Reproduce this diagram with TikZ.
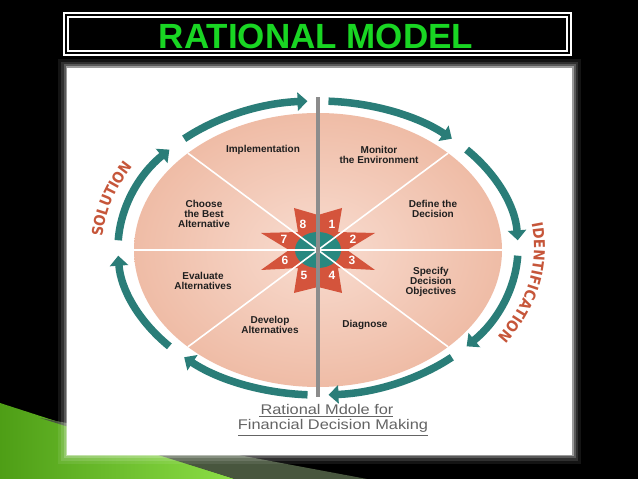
\documentclass[tikz,border=0pt]{standalone}
\usepackage{fontspec}
\setmainfont{Liberation Sans}
\newfontfamily\phasefont{DejaVu Sans Condensed}
\usetikzlibrary{arrows.meta,decorations.text,calc}
\definecolor{teal2}{RGB}{42,125,120}
\definecolor{tealc}{RGB}{40,136,128}
\definecolor{starred}{RGB}{212,84,60}
\definecolor{salmonE}{RGB}{239,188,166}
\definecolor{salmonC}{RGB}{248,220,208}
\definecolor{titlegreen}{RGB}{25,214,35}
\definecolor{labelred}{RGB}{198,86,58}
\definecolor{capgray}{RGB}{100,100,100}
\definecolor{linegray}{RGB}{140,140,140}
\definecolor{grassA}{RGB}{78,158,22}
\definecolor{grassB}{RGB}{140,222,70}
\definecolor{bandc}{RGB}{72,86,62}
\begin{document}
\begin{tikzpicture}[x=1pt,y=1pt,
  seglabel/.style={font=\bfseries\fontsize{10}{10.4}\selectfont, text=black!88, align=center, inner sep=0},
  cyclearrow/.style={draw=teal2, line width=7.5pt, -{Triangle[width=18pt,length=10pt]}},
  starpiece/.style={fill=starred},
  num/.style={font=\bfseries\fontsize{12}{12}\selectfont, text=white, inner sep=0},
  divider/.style={draw=white, line width=1.6pt},
  phase/.style={decorate, decoration={text along path, text align=center,
     text={|\phasefont\bfseries\fontsize{15}{15}\selectfont\color{labelred}|#1}}},
  caption/.style={font=\fontsize{14}{14}\selectfont, text=capgray, xscale=1.17, inner sep=0}
]
\useasboundingbox (0,0) rectangle (638,479);
\fill[black] (0,0) rectangle (638,479);
% green decoration bottom left
\shade[left color=grassA, right color=grassB] (0,76) -- (235,0) -- (0,0) -- cycle;
\fill[bandc] (40,61) -- (367,0) -- (235,0) -- cycle;
% white panel with glow
\foreach \w/\o in {18/0.08, 12/0.12, 7/0.2, 3/0.4}
  \draw[white, opacity=\o, line width=\w pt] (67,24) rectangle (572,411);
\fill[white] (67,24) rectangle (572,411);
% title
\fill[black] (64,424) rectangle (571,466);
\draw[white, line width=1.6pt] (64,424) rectangle (571,466);
\draw[white, line width=1.1pt] (68,428) rectangle (567,462);
\node[font=\bfseries\fontsize{35}{35}\selectfont, text=titlegreen, inner sep=0] (title) at (316,443) {RATIONAL MODEL};

\coordinate (C) at (318,229);
\coordinate (A) at (318,231);
% big ellipse
\shade[inner color=salmonC, outer color=salmonE] (C) ellipse [x radius=184pt, y radius=137pt];
% star
\begin{scope}[shift={(318,229)}]
  \fill[starpiece] (0,0) -- (0,35) -- (24,42) -- (20,18) -- cycle;
  \fill[starpiece] (0,0) -- (19,18) -- (57,17) -- (29,0) -- cycle;
  \fill[starpiece] (0,0) -- (29,0) -- (57,-20) -- (19,-18) -- cycle;
  \fill[starpiece] (0,0) -- (20,-18) -- (24,-43) -- (0,-37) -- cycle;
  \fill[starpiece] (0,0) -- (-20,-18) -- (-24,-43) -- (0,-37) -- cycle;
  \fill[starpiece] (0,0) -- (-29,0) -- (-57,-20) -- (-19,-18) -- cycle;
  \fill[starpiece] (0,0) -- (-19,18) -- (-57,17) -- (-29,0) -- cycle;
  \fill[starpiece] (0,0) -- (0,35) -- (-24,42) -- (-20,18) -- cycle;
\end{scope}
\fill[tealc] (C) ellipse [x radius=23pt, y radius=18pt];
% dividers
\draw[divider] ($(C)+(180:184pt and 137pt)$) -- ($(C)+(0:184pt and 137pt)$);
\draw[divider] ($(C)+(45:184pt and 137pt)$) -- ($(C)+(225:184pt and 137pt)$);
\draw[divider] ($(C)+(135:184pt and 137pt)$) -- ($(C)+(315:184pt and 137pt)$);
\draw[linegray, line width=4pt] (318,82) -- (318,382);
% numbers
\node[num] (n1) at (332,255) {1};
\node[num] (n2) at (353,240) {2};
\node[num] (n3) at (352,219) {3};
\node[num] (n4) at (332,204) {4};
\node[num] (n5) at (304,204) {5};
\node[num] (n6) at (285,219) {6};
\node[num] (n7) at (284,240) {7};
\node[num] (n8) at (303,255) {8};
% cycle arrows
\foreach \k in {0,...,7} {
  \pgfmathsetmacro\sa{87-45*\k}
  \pgfmathsetmacro\ea{48-45*\k}
  \draw[cyclearrow] ($(A)+(\sa:200pt and 147pt)$) arc[start angle=\sa, end angle=\ea, x radius=200pt, y radius=147pt];
}
% segment labels
\node[seglabel] (impl) at (263,329) {Implementation};
\node[seglabel] (moni) at (379,324) {Monitor\\the Environment};
\node[seglabel] (defi) at (433,270) {Define the\\Decision};
\node[seglabel] (spec) at (431,197) {Specify\\Decision\\Objectives};
\node[seglabel] (diag) at (365,154) {Diagnose};
\node[seglabel] (deve) at (270,154) {Develop\\Alternatives};
\node[seglabel] (eval) at (203,198) {Evaluate\\Alternatives};
\node[seglabel] (choo) at (204,265) {Choose\\the Best\\Alternative};
% phase labels
\path[phase=SOLUTION] ($(A)+(184:216pt and 159pt)$) arc[start angle=184, end angle=142, x radius=216pt, y radius=159pt];
\path[phase=IDENTIFICATION] ($(A)+(28:216pt and 159pt)$) arc[start angle=28, end angle=-51, x radius=216pt, y radius=159pt];
% caption
\node[caption] (cap1) at (327,70) {Rational Mdole for};
\node[caption] (cap2) at (333,53) {Financial Decision Making};
\draw[capgray, line width=0.8pt] (259,63) -- (393,63);
\draw[capgray, line width=0.8pt] (238,44) -- (428,44);
\end{tikzpicture}
\end{document}
